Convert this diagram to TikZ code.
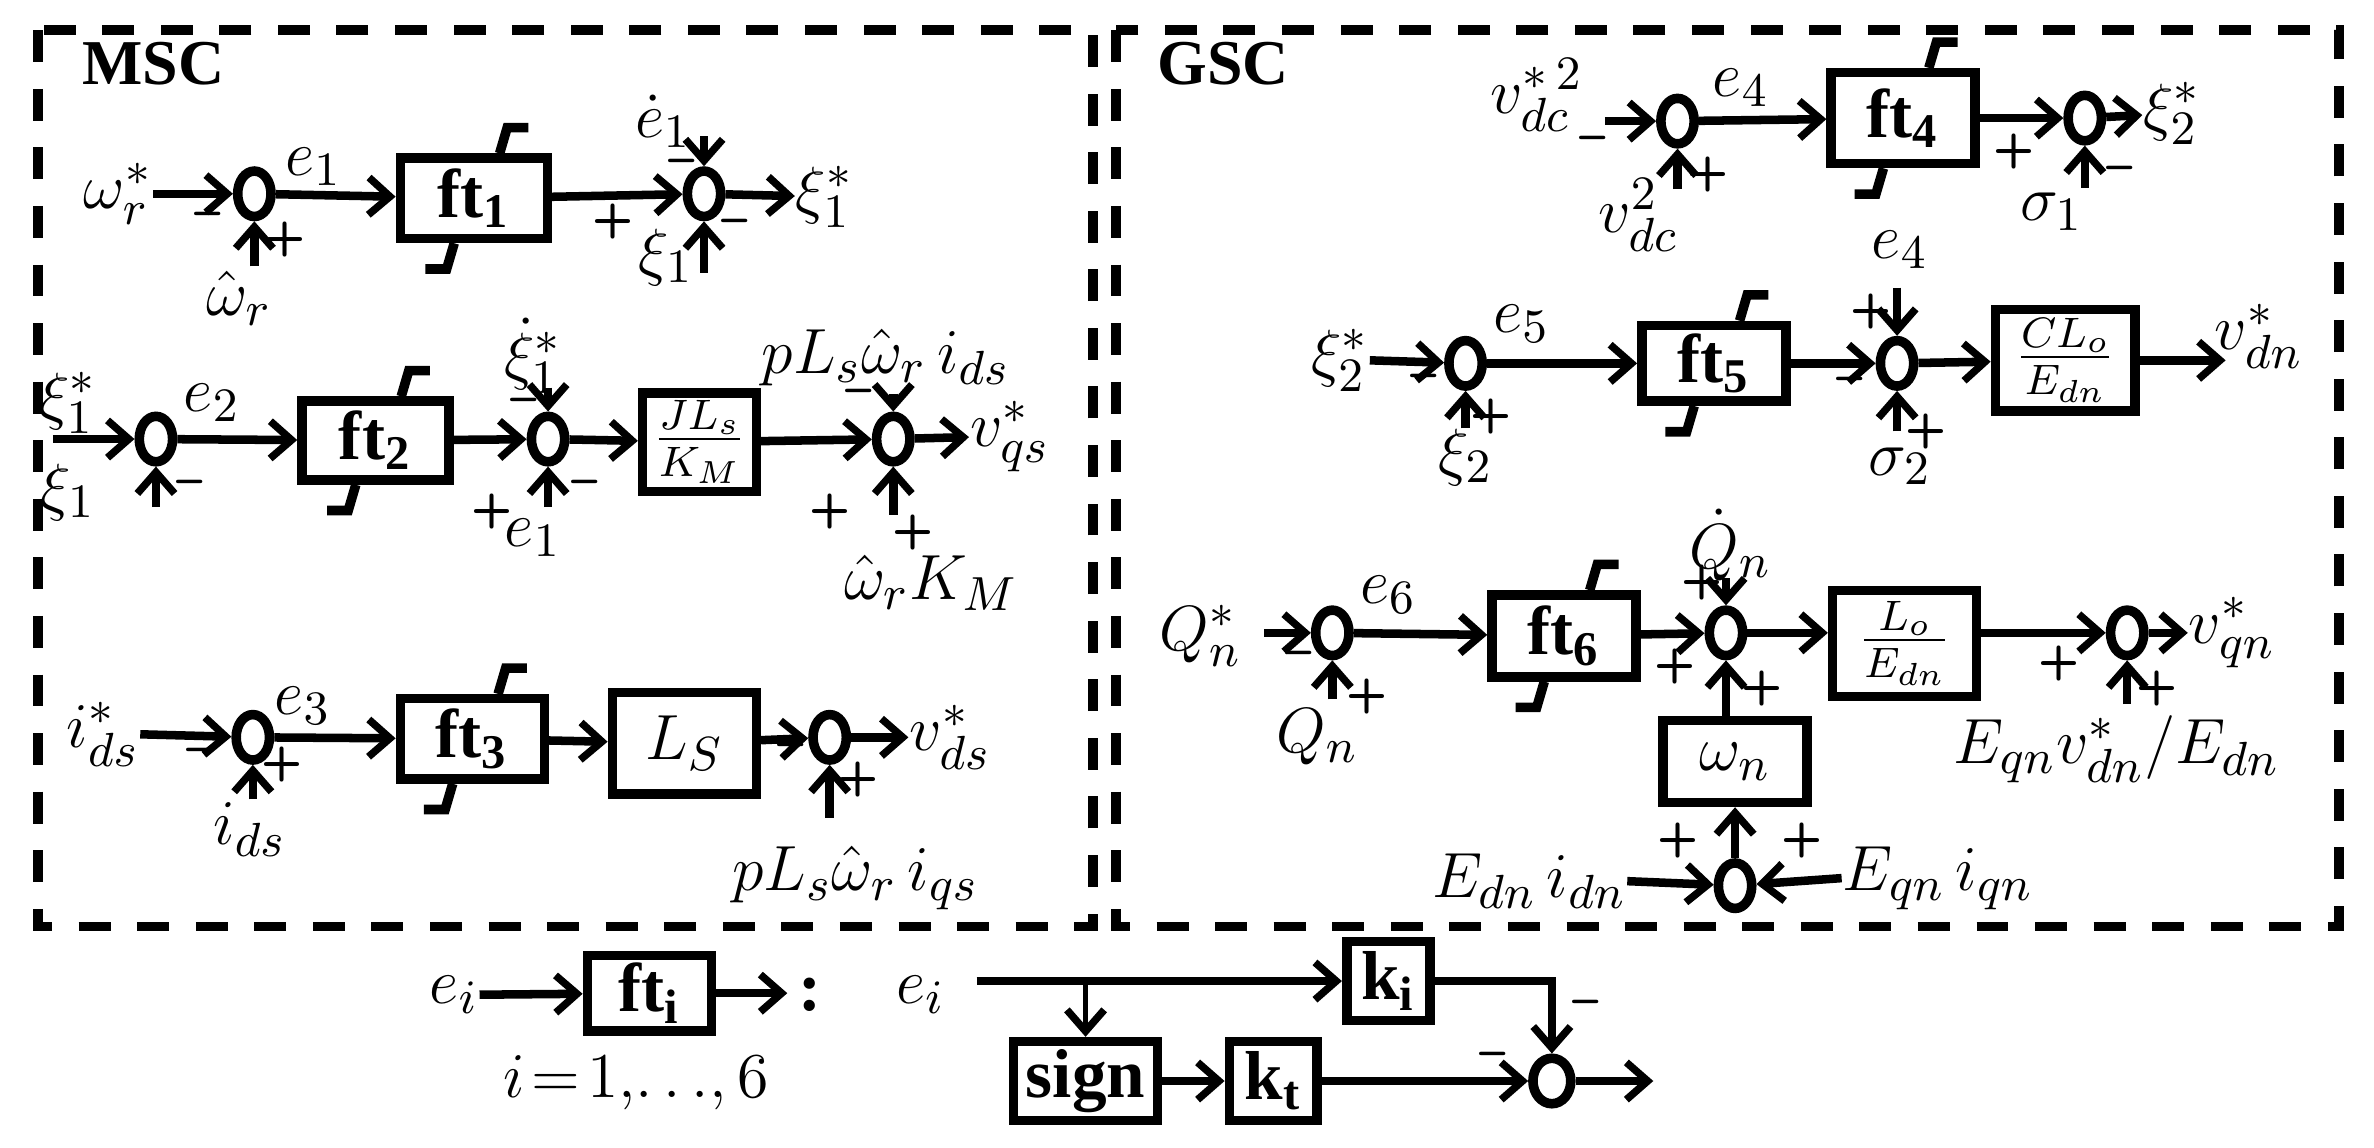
\documentclass[tikz,border=0pt]{standalone}
\usepackage{fontspec}
\setmainfont{Liberation Serif}
\usetikzlibrary{arrows.meta,shapes.geometric,calc}
\newcommand\satur[1]{%
  \draw[sat] ($(#1.north)+(17,0)$) -- ++(5,-17) -- ++(14,0);
  \draw[sat] ($(#1.south)+(-13,0)$) -- ++(-5,17) -- ++(-14,0);}
\begin{document}
\begin{tikzpicture}[x=0.01cm,y=-0.01cm,
  >={Straight Barb[length=4pt,width=7pt,line width=1.4pt]},
  sum/.style={ellipse,draw,line width=1.8pt,minimum width=0.22cm,minimum height=0.3cm,inner sep=0pt},
  blk/.style={draw,line width=1.8pt,inner sep=0pt,font=\fontsize{13}{13}\selectfont\bfseries},
  sat/.style={line width=1.8pt},
  ln/.style={line width=1.6pt,->},
  lab/.style={font=\fontsize{13}{13}\selectfont,inner sep=0pt},
  sg/.style={font=\fontsize{9}{9}\selectfont\bfseries\sffamily,inner sep=0pt},
  frame/.style={line width=1.8pt,dash pattern=on 6pt off 5pt}]
\useasboundingbox (0,0) rectangle (1568,758);
\draw[frame] (25,20) rectangle (722,612);
\draw[frame] (737,20) rectangle (1545,612);
\node[font=\fontsize{12}{12}\selectfont\bfseries,anchor=west] (msc) at (42,42) {MSC};
\node[font=\fontsize{12}{12}\selectfont\bfseries,anchor=west] (gsc) at (752,42) {GSC};

% ---- MSC row 1
\node[lab] (wr) at (78,128) {$\omega_r^*$};
\node[sum] (s11) at (168,128) {};
\node[blk,minimum width=0.97cm,minimum height=0.53cm] (ft1) at (313,131) {ft$_{\mathbf 1}$};
\satur{ft1}
\node[sum] (s12) at (465,128) {};
\node[lab,anchor=west] (xi1s) at (525,130) {$\xi_1^*$};
\node[lab] (e1d) at (438,80) {$\dot e_1$};
\node[lab] (xi1a) at (440,170) {$\xi_1$};
\node[lab] (whr) at (158,197) {$\hat\omega_r$};
\coordinate (c11) at (168,176);
\coordinate (c12) at (465,90);
\coordinate (c13) at (465,180);
\draw[ln] (wr.east) -- (s11);
\draw[ln] (s11) -- (ft1);
\draw[ln] (ft1) -- (s12);
\draw[ln] (s12) -- (xi1s);
\draw[ln] (c11) -- (s11);
\draw[ln] (c12) -- (s12);
\draw[ln] (c13) -- (s12);
\node[lab] (le1) at (207,110) {$e_1$};
\node[sg] at (137,145) {--}; \node[sg] at (188,158) {+};
\node[sg] at (450,110) {--}; \node[sg] at (405,146) {+}; \node[sg] at (485,150) {--};

% ---- MSC row 2
\node[lab] (xi1s2) at (45,266) {$\xi_1^*$};
\node[sum] (s21) at (103,290) {};
\node[blk,minimum width=0.97cm,minimum height=0.52cm] (ft2) at (248,291) {ft$_{\mathbf 2}$};
\satur{ft2}
\node[sum] (s22) at (362,290) {};
\node[blk,minimum width=0.75cm,minimum height=0.65cm,font=\fontsize{12}{12}\selectfont] (jl) at (462,292) {$\frac{JL_s}{K_M}$};
\node[sum] (s23) at (590,290) {};
\node[lab,anchor=west] (vqs) at (640,288) {$v_{qs}^*$};
\node[lab] (xi1b) at (45,325) {$\xi_1$};
\node[lab] (xi1d) at (352,235) {$\dot\xi_1^*$};
\node[lab] (e1b) at (352,355) {$e_1$};
\node[lab] (plw) at (585,236) {$pL_s\hat\omega_r\, i_{ds}$};
\node[lab] (wkm) at (615,385) {$\hat\omega_r K_M$};
\coordinate (c21) at (35,290);
\coordinate (c22) at (103,335);
\coordinate (c23) at (362,256);
\coordinate (c24) at (362,335);
\coordinate (c25) at (590,260);
\coordinate (c26) at (590,340);
\draw[ln] (c21) -- (s21);
\draw[ln] (s21) -- (ft2);
\draw[ln] (ft2) -- (s22);
\draw[ln] (s22) -- (jl);
\draw[ln] (jl) -- (s23);
\draw[ln] (s23) -- (vqs);
\draw[ln] (c22) -- (s21);
\draw[ln] (c23) -- (s22);
\draw[ln] (c24) -- (s22);
\draw[ln] (c25) -- (s23);
\draw[ln] (c26) -- (s23);
\node[lab] (le2) at (140,266) {$e_2$};
\node[sg] at (125,322) {--};
\node[sg] at (346,268) {--}; \node[sg] at (325,338) {+}; \node[sg] at (386,322) {--};
\node[sg] at (567,262) {--}; \node[sg] at (548,338) {+}; \node[sg] at (603,352) {+};

% ---- MSC row 3
\node[lab] (ids) at (68,485) {$i_{ds}^*$};
\node[sum] (s31) at (167,487) {};
\node[blk,minimum width=0.95cm,minimum height=0.53cm] (ft3) at (312,488) {ft$_{\mathbf 3}$};
\satur{ft3}
\node[blk,minimum width=0.95cm,minimum height=0.67cm,font=\fontsize{13}{13}\selectfont] (ls) at (452,491) {$L_S$};
\node[sum] (s32) at (548,487) {};
\node[lab,anchor=west] (vds) at (600,487) {$v_{ds}^*$};
\node[lab] (ids2) at (165,548) {$i_{ds}$};
\node[lab] (plwq) at (565,580) {$pL_s\hat\omega_r\, i_{qs}$};
\coordinate (c31) at (167,528);
\coordinate (c32) at (548,540);
\draw[ln] (ids.east) -- (s31);
\draw[ln] (s31) -- (ft3);
\draw[ln] (ft3) -- (ls);
\draw[ln] (ls) -- (s32);
\draw[ln] (s32) -- (vds);
\draw[ln] (c31) -- (s31);
\draw[ln] (c32) -- (s32);
\node[lab] (le3) at (200,466) {$e_3$};
\node[sg] at (132,499) {--}; \node[sg] at (186,505) {+};
\node[sg] at (522,496) {--}; \node[sg] at (567,515) {+};

% ---- GSC row 1
\node[lab] (vdcs) at (1015,63) {$v_{dc}^{*\,2}$};
\node[sum] (s41) at (1108,80) {};
\node[blk,minimum width=0.95cm,minimum height=0.6cm] (ft4) at (1257,78) {ft$_{\mathbf 4}$};
\satur{ft4}
\node[sum] (s42) at (1377,78) {};
\node[lab,anchor=west] (xi2s) at (1415,75) {$\xi_2^*$};
\node[lab] (vdc) at (1082,142) {$v_{dc}^2$};
\node[lab] (sg1) at (1355,140) {$\sigma_1$};
\coordinate (c40) at (1060,80);
\coordinate (c41) at (1108,125);
\coordinate (c42) at (1377,124);
\draw[ln] (c40) -- (s41);
\draw[ln] (s41) -- (ft4);
\draw[ln] (ft4) -- (s42);
\draw[ln] (s42) -- (xi2s);
\draw[ln] (c41) -- (s41);
\draw[ln] (c42) -- (s42);
\node[lab] (le4) at (1150,58) {$e_4$};
\node[sg] at (1052,95) {--}; \node[sg] at (1128,115) {+};
\node[sg] at (1330,100) {+}; \node[sg] at (1400,115) {--};

% ---- GSC row 2
\node[lab] (xi2s2) at (885,238) {$\xi_2^*$};
\node[sum] (s51) at (968,240) {};
\node[blk,minimum width=0.95cm,minimum height=0.5cm] (ft5) at (1132,240) {ft$_{\mathbf 5}$};
\satur{ft5}
\node[sum] (s52) at (1253,240) {};
\node[blk,minimum width=0.92cm,minimum height=0.67cm,font=\fontsize{12}{12}\selectfont] (cl) at (1364,238) {$\frac{CL_o}{E_{dn}}$};
\coordinate (c5o) at (1470,238);
\node[lab] (vdn) at (1492,222) {$v_{dn}^*$};
\node[lab] (e4b) at (1255,165) {$e_4$};
\node[lab] (xi2) at (968,302) {$\xi_2$};
\node[lab] (sg2) at (1255,308) {$\sigma_2$};
\coordinate (c51) at (968,283);
\coordinate (c52) at (1253,190);
\coordinate (c53) at (1253,285);
\draw[ln] (xi2s2.east) -- (s51);
\draw[ln] (s51) -- (ft5);
\draw[ln] (ft5) -- (s52);
\draw[ln] (s52) -- (cl);
\draw[ln] (cl) -- (c5o);
\draw[ln] (c51) -- (s51);
\draw[ln] (c52) -- (s52);
\draw[ln] (c53) -- (s52);
\node[lab] (le5) at (1005,214) {$e_5$};
\node[sg] at (940,252) {--}; \node[sg] at (985,275) {+};
\node[sg] at (1222,254) {--}; \node[sg] at (1236,206) {+}; \node[sg] at (1272,285) {+};

% ---- GSC row 3
\node[lab] (qns) at (793,420) {$Q_n^*$};
\node[sum] (s61) at (880,418) {};
\node[blk,minimum width=0.95cm,minimum height=0.54cm] (ft6) at (1033,420) {ft$_{\mathbf 6}$};
\satur{ft6}
\node[sum] (s62) at (1140,418) {};
\node[blk,minimum width=0.95cm,minimum height=0.7cm,font=\fontsize{12}{12}\selectfont] (lo) at (1258,425) {$\frac{L_o}{E_{dn}}$};
\node[sum] (s63) at (1405,418) {};
\node[lab,anchor=west] (vqn) at (1445,418) {$v_{qn}^*$};
\node[lab] (qnd) at (1143,360) {$\dot Q_n$};
\node[lab] (qn) at (870,487) {$Q_n$};
\node[blk,minimum width=0.95cm,minimum height=0.54cm,font=\fontsize{13}{13}\selectfont] (wn) at (1146,503) {$\omega_n$};
\node[sum] (s64) at (1146,585) {};
\node[lab] (edi) at (1010,582) {$E_{dn}\,i_{dn}$};
\node[lab] (eqi) at (1280,580) {$E_{qn}\,i_{qn}$};
\node[lab] (eqv) at (1398,495) {$E_{qn}v_{dn}^*/E_{dn}$};
\coordinate (c60) at (835,418);
\coordinate (c61) at (880,462);
\coordinate (c62) at (1140,382);
\coordinate (c63) at (1405,465);
\draw[ln] (c60) -- (s61);
\draw[ln] (s61) -- (ft6);
\draw[ln] (ft6) -- (s62);
\draw[ln] (s62) -- (lo.west |- s62);
\draw[ln] (lo.east |- s63) -- (s63);
\draw[ln] (s63) -- (vqn);
\draw[ln] (c61) -- (s61);
\draw[ln] (c62) -- (s62);
\draw[ln] (wn.north -| s62) -- (s62);
\draw[ln] (s64) -- (wn);
\draw[ln] (edi.east) -- (s64);
\draw[ln] (eqi.west) -- (s64);
\draw[ln] (c63) -- (s63);
\node[lab] (le6) at (917,393) {$e_6$};
\node[sg] at (858,435) {--}; \node[sg] at (903,460) {+};
\node[sg] at (1124,385) {+}; \node[sg] at (1106,440) {+}; \node[sg] at (1164,455) {+};
\node[sg] at (1360,438) {+}; \node[sg] at (1425,455) {+};
\node[sg] at (1108,555) {+}; \node[sg] at (1190,555) {+};

% ---- legend
\node[lab] (ei1) at (300,657) {$e_i$};
\node[blk,minimum width=0.82cm,minimum height=0.5cm] (fti) at (429,656) {ft$_{\mathbf i}$};
\coordinate (fto) at (520,656);
\draw[ln] (ei1.east) -- (fti);
\draw[ln] (fti) -- (fto);
\node[lab] (col) at (535,657) {\bfseries :};
\node[lab] (irange) at (420,715) {$i\!=\!1,\!\dots\!,6$};
\node[lab] (ei2) at (608,657) {$e_i$};
\node[blk,minimum width=0.55cm,minimum height=0.52cm] (ki) at (917,648) {k$_{\mathbf i}$};
\node[blk,minimum width=0.95cm,minimum height=0.52cm] (sgn) at (717,714) {sign};
\node[blk,minimum width=0.58cm,minimum height=0.52cm] (kt) at (841,714) {k$_{\mathbf t}$};
\node[sum,minimum width=0.25cm,minimum height=0.3cm] (s7) at (1025,714) {};
\coordinate (c70) at (645,648);
\coordinate (c71) at (717,648);
\coordinate (c72) at (1025,648);
\coordinate (c73) at (1092,714);
\draw[line width=1.6pt] (c70) -- (c71);
\draw[ln] (c71) -- (ki);
\draw[->,line width=1pt] (c71) -- (sgn);
\draw[ln] (sgn) -- (kt);
\draw[ln] (kt) -- (s7);
\draw[ln] (ki.east) -- (c72) -- (s7);
\draw[ln] (s7) -- (c73);
\node[sg] at (1047,666) {--}; \node[sg] at (986,700) {--};
\end{tikzpicture}
\end{document}
